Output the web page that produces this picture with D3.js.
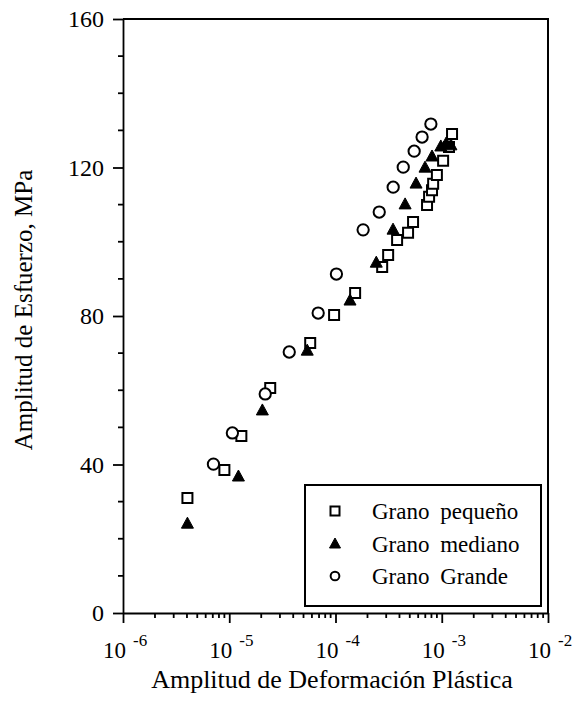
<!DOCTYPE html>
<html>
<head>
  <meta charset="utf-8">
  <title>Amplitud de Esfuerzo vs Deformación Plástica</title>
  <script src="https://cdn.jsdelivr.net/npm/d3@7"></script>
  <style>
    html, body { margin: 0; padding: 0; background: #fff; }
    svg { display: block; font-family: "Liberation Serif", "Times New Roman", serif; }
    .axis path, .axis line { stroke: #000; stroke-width: 1.8px; }
    .axis text { font-size: 24px; fill: #000; font-family: "Liberation Serif", serif; }
  </style>
</head>
<body>
  <svg class="svg" width="580" height="702"></svg>
  <script>
    // datos
    var pequenoX = [4.04e-6, 9.0e-6, 1.30e-5, 2.43e-5, 5.78e-5, 9.7e-5, 1.53e-4, 2.75e-4, 3.13e-4, 3.80e-4,
      4.82e-4, 5.37e-4, 7.27e-4, 7.6e-4, 8.1e-4, 8.3e-4, 9.0e-4, 1.03e-3, 1.17e-3, 1.25e-3];
    var pequenoY = [31.0, 38.5, 47.7, 60.6, 72.7, 80.3, 86.2, 93.2, 96.4, 100.5,
      102.4, 105.3, 109.9, 112.1, 113.9, 115.6, 118.0, 121.8, 125.5, 129.0];

    var medianoX = [4.04e-6, 1.22e-5, 2.05e-5, 5.42e-5, 1.37e-4, 2.42e-4, 3.48e-4, 4.52e-4, 5.73e-4, 6.96e-4,
      8.1e-4, 9.8e-4, 1.10e-3, 1.22e-3];
    var medianoY = [24.2, 36.9, 54.7, 70.8, 84.3, 94.5, 103.4, 110.2, 115.8, 120.1,
      123.1, 125.8, 126.6, 126.1];

    var grandeX = [7.1e-6, 1.07e-5, 2.18e-5, 3.67e-5, 6.87e-5, 1.02e-4, 1.82e-4, 2.58e-4, 3.49e-4, 4.34e-4,
      5.50e-4, 6.53e-4, 7.9e-4];
    var grandeY = [40.1, 48.5, 59.0, 70.3, 80.8, 91.3, 103.2, 108.0, 114.7, 120.1,
      124.4, 128.2, 131.7];

    var yTicks = [0, 40, 80, 120, 160];
    var xTicks = [1e-6, 1e-5, 1e-4, 1e-3, 1e-2];
    var legendNames = ["Grano pequeño", "Grano mediano", "Grano Grande"];

    var svg = d3.select('.svg');
    var mLeft = 123, mRight = 548, mTop = 19, mBottom = 613;

    var xScale = d3.scaleLog()
      .domain([1e-6, 1e-2])
      .range([mLeft, mRight]);

    var yScale = d3.scaleLinear()
      .domain([0, 160])
      .range([mBottom, mTop]);

    // marco superior y derecho
    svg.append('path')
      .attr('d', `M${mLeft},${mTop}H${mRight}V${mBottom}`)
      .attr('fill', 'none')
      .attr('stroke', '#000')
      .attr('stroke-width', 2);

    // eje Y
    var yAxis = d3.axisLeft(yScale)
      .tickValues(yTicks)
      .tickSizeInner(10)
      .tickSizeOuter(0)
      .tickPadding(9);

    var gy = svg.append('g')
      .attr('class', 'y axis')
      .attr('transform', `translate(${mLeft},0)`)
      .call(yAxis);

    gy.selectAll('.minor')
      .data(d3.range(10, 160, 10).filter(v => v % 40 !== 0))
      .enter()
      .append('line')
      .attr('class', 'minor')
      .attr('x1', 0).attr('x2', -5)
      .attr('y1', d => yScale(d)).attr('y2', d => yScale(d));

    // eje X
    var xAxis = d3.axisBottom(xScale)
      .tickValues(xTicks)
      .tickSizeInner(10)
      .tickSizeOuter(0)
      .tickFormat('');

    var gx = svg.append('g')
      .attr('class', 'x axis')
      .attr('transform', `translate(0,${mBottom})`)
      .call(xAxis);

    var minorX = [];
    for (var e = -6; e < -2; e++) {
      for (var m = 2; m < 10; m++) minorX.push(m * Math.pow(10, e));
    }
    gx.selectAll('.minor')
      .data(minorX)
      .enter()
      .append('line')
      .attr('class', 'minor')
      .attr('x1', d => xScale(d)).attr('x2', d => xScale(d))
      .attr('y1', 0).attr('y2', 5);

    // etiquetas 10^n
    var lab = svg.selectAll('.xlab')
      .data(xTicks)
      .enter()
      .append('text')
      .attr('class', 'xlab')
      .attr('x', d => xScale(d) - 20)
      .attr('y', 658)
      .attr('font-size', 23);
    lab.append('tspan').text('10');
    lab.append('tspan')
      .attr('dx', 7)
      .attr('dy', -12)
      .attr('font-size', 17)
      .text(d => Math.round(Math.log10(d)));

    // títulos
    svg.append('text')
      .attr('x', 332)
      .attr('y', 688)
      .attr('text-anchor', 'middle')
      .attr('font-size', 26)
      .text('Amplitud de Deformación Plástica');

    svg.append('text')
      .attr('transform', 'translate(32,310) rotate(-90)')
      .attr('text-anchor', 'middle')
      .attr('font-size', 25)
      .text('Amplitud de Esfuerzo, MPa');

    // símbolos
    function square(g) {
      g.attr('fill', '#fff').attr('stroke', '#000').attr('stroke-width', 2)
        .attr('d', 'M-5,-5H5V5H-5Z');
    }
    function triangle(g) {
      g.attr('fill', '#000').attr('stroke', '#000').attr('stroke-width', 1)
        .attr('d', 'M0,-6L6,5H-6Z');
    }
    function circle(g) {
      g.attr('fill', '#fff').attr('stroke', '#000').attr('stroke-width', 2)
        .attr('d', d3.symbol(d3.symbolCircle, 100)());
    }

    var pequeno = pequenoX.map((x, i) => ({ x: x, y: pequenoY[i] }));
    var mediano = medianoX.map((x, i) => ({ x: x, y: medianoY[i] }));
    var grande = grandeX.map((x, i) => ({ x: x, y: grandeY[i] }));

    svg.selectAll('.sq')
      .data(pequeno)
      .enter()
      .append('path')
      .attr('class', 'sq')
      .attr('transform', d => `translate(${xScale(d.x)},${yScale(d.y)})`)
      .call(square);

    svg.selectAll('.tri')
      .data(mediano)
      .enter()
      .append('path')
      .attr('class', 'tri')
      .attr('transform', d => `translate(${xScale(d.x)},${yScale(d.y)})`)
      .call(triangle);

    svg.selectAll('.circ')
      .data(grande)
      .enter()
      .append('path')
      .attr('class', 'circ')
      .attr('transform', d => `translate(${xScale(d.x)},${yScale(d.y)})`)
      .call(circle);

    // leyenda
    var leg = svg.append('g').attr('transform', 'translate(305,485)');
    leg.append('rect')
      .attr('width', 236).attr('height', 121)
      .attr('fill', '#fff').attr('stroke', '#000').attr('stroke-width', 2);

    var rows = leg.selectAll('.row')
      .data(legendNames)
      .enter()
      .append('g')
      .attr('class', 'row')
      .attr('transform', (d, i) => `translate(0,${26 + i * 32.5})`);

    rows.append('path')
      .attr('transform', 'translate(30,0)')
      .each(function (d, i) {
        var g = d3.select(this);
        if (i === 0) g.call(square).attr('d', 'M-4.5,-4.5H4.5V4.5H-4.5Z');
        else if (i === 1) g.call(triangle).attr('d', 'M0,-5.5L5.5,4.5H-5.5Z');
        else g.call(circle).attr('d', d3.symbol(d3.symbolCircle, 60)());
      });

    rows.append('text')
      .attr('x', 67)
      .attr('y', 8)
      .attr('font-size', 23)
      .attr('word-spacing', 5)
      .text(d => d);
  </script>
</body>
</html>
